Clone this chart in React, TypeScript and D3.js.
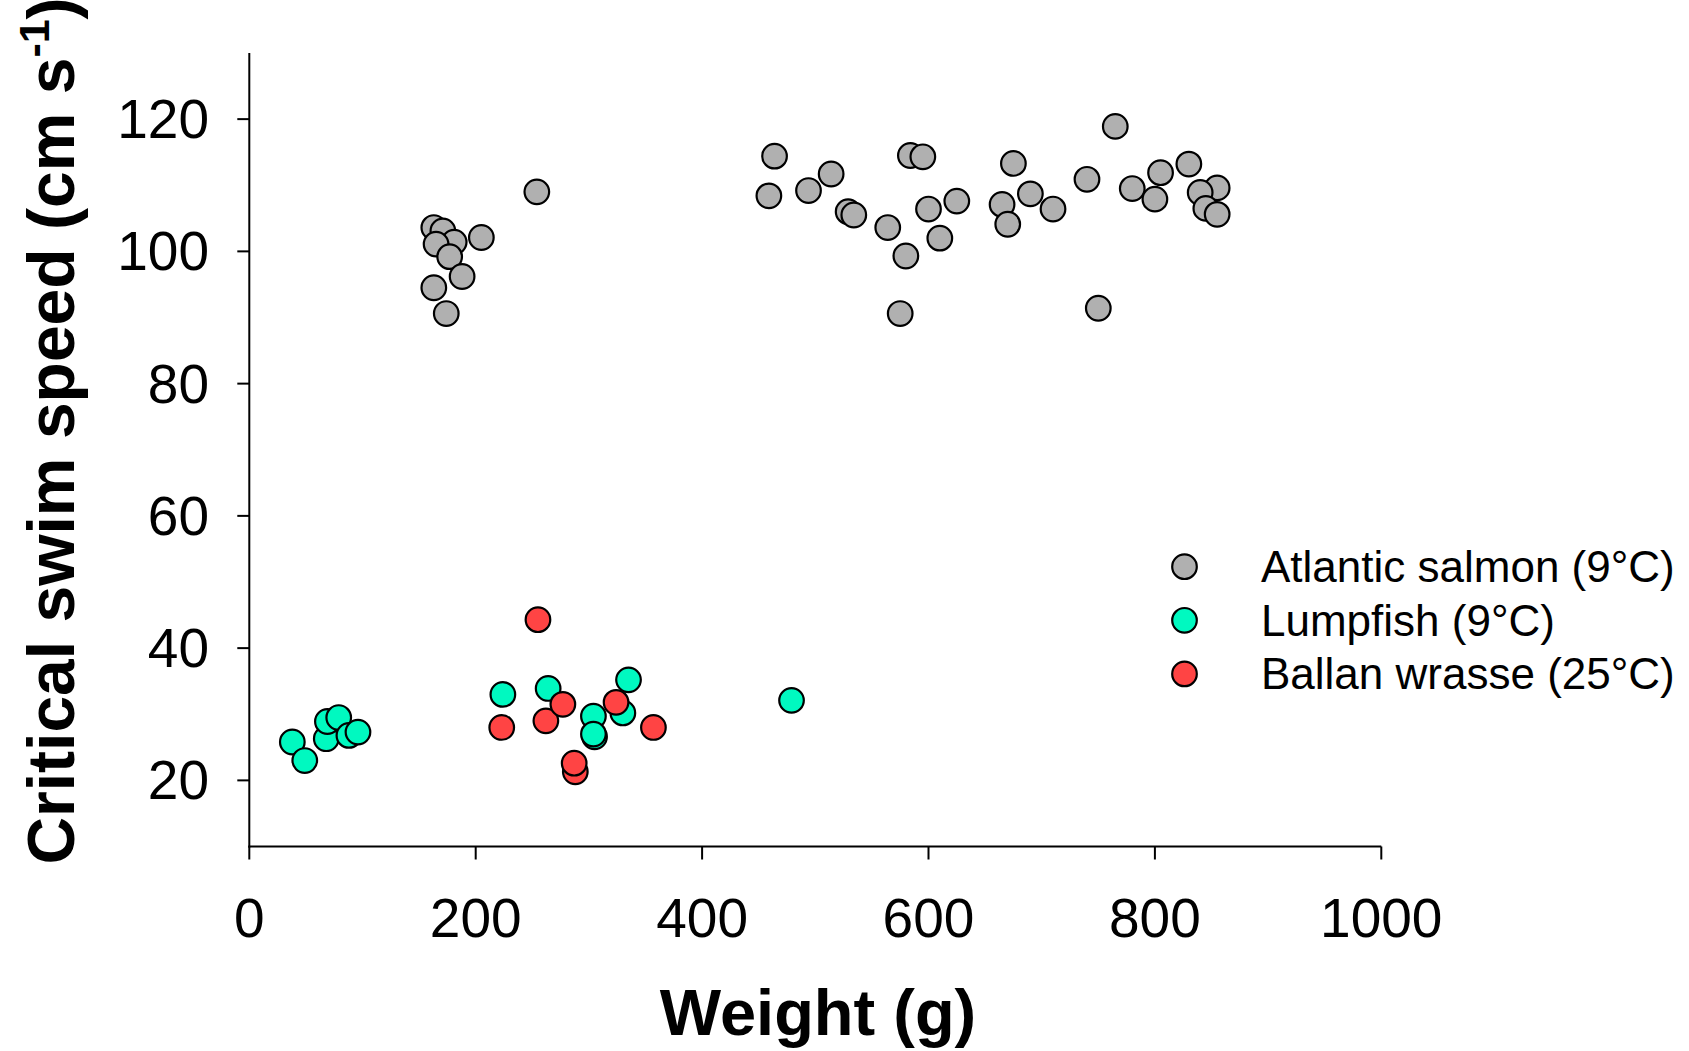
import React from "react";
import * as d3 from "d3";

const salmonX = [254, 163, 171, 205, 181, 165, 177, 188, 163, 174, 464, 459, 494, 514, 529, 534, 564, 580, 575, 584, 595, 600, 610, 625, 675, 665, 670, 690, 710, 740, 765, 750, 780, 800, 805, 830, 855, 840, 845, 855];
const salmonY = [109.0, 103.6, 103.1, 102.1, 101.4, 101.1, 99.2, 96.2, 94.5, 90.6, 114.4, 108.4, 109.2, 111.7, 106.0, 105.5, 103.6, 99.3, 90.6, 114.5, 114.3, 106.4, 102.0, 107.6, 113.3, 107.1, 104.1, 108.7, 106.4, 110.9, 118.9, 91.4, 109.5, 107.9, 111.9, 113.2, 109.6, 108.9, 106.5, 105.6];
const lumpX = [38, 49, 68, 69, 79, 88, 96, 224, 264, 304, 330, 335, 305, 304, 479];
const lumpY = [25.8, 23.0, 26.3, 28.9, 29.5, 26.8, 27.3, 33.0, 33.9, 29.7, 30.2, 35.2, 26.6, 27.0, 32.1];
const wrasseX = [255, 223, 262, 277, 288, 287, 324, 357];
const wrasseY = [44.3, 28.0, 29.0, 31.5, 21.3, 22.6, 31.8, 28.0];

const seriesNames = ["Atlantic salmon (9°C)", "Lumpfish (9°C)", "Ballan wrasse (25°C)"];
const seriesColors = ["#b0b0b0", "#00f9c0", "#ff4444"];
const xTicks = [0, 200, 400, 600, 800, 1000];
const yTicks = [20, 40, 60, 80, 100, 120];

const FONT = "'Liberation Sans', Arial, sans-serif";

export default function App() {
  const W = 1689, H = 1051;
  const x = d3.scaleLinear().domain([0, 1000]).range([249.3, 1381.3]);
  const y = d3.scaleLinear().domain([10, 130]).range([846.5, 53]);
  const series = [
    { xs: salmonX, ys: salmonY },
    { xs: lumpX, ys: lumpY },
    { xs: wrasseX, ys: wrasseY },
  ];
  const r = 12.3;
  return (
    <svg width={W} height={H} style={{ position: "absolute", left: 0, top: 0, background: "#fff" }} fontFamily={FONT}>
      {/* axes */}
      <line x1={x(0)} x2={x(0)} y1={y(130)} y2={y(10) + 1} stroke="#000" strokeWidth={2} />
      <line x1={x(0) - 1} x2={x(1000)} y1={y(10)} y2={y(10)} stroke="#000" strokeWidth={2.2} />
      {yTicks.map((t) => (
        <g key={"y" + t}>
          <line x1={x(0) - 12} x2={x(0)} y1={y(t)} y2={y(t)} stroke="#000" strokeWidth={2} />
          <text x={209} y={y(t) + 19} textAnchor="end" fontSize={55}>{t}</text>
        </g>
      ))}
      {xTicks.map((t) => (
        <g key={"x" + t}>
          <line x1={x(t)} x2={x(t)} y1={y(10)} y2={y(10) + 13} stroke="#000" strokeWidth={2} />
          <text x={x(t)} y={937} textAnchor="middle" fontSize={55}>{t}</text>
        </g>
      ))}
      <text x={818} y={1035} textAnchor="middle" fontSize={65} fontWeight="bold">Weight (g)</text>
      <text transform={`translate(74,${431}) rotate(-90)`} textAnchor="middle" fontSize={66} fontWeight="bold">
        Critical swim speed (cm s<tspan fontSize={43} dy={-25}>-1</tspan><tspan dy={25}>)</tspan>
      </text>
      {/* points */}
      {series.map((s, si) => (
        <g key={"s" + si}>
          {s.xs.map((xv, i) => (
            <circle key={i} cx={x(xv)} cy={y(s.ys[i])} r={r} fill={seriesColors[si]} stroke="#000" strokeWidth={2.2} />
          ))}
        </g>
      ))}
      {/* legend */}
      {seriesNames.map((n, i) => (
        <g key={"l" + i}>
          <circle cx={1184.5} cy={566.7 + i * 53.6} r={12.3} fill={seriesColors[i]} stroke="#000" strokeWidth={2.2} />
          <text x={1261} y={566.7 + i * 53.6 + 15.5} fontSize={44}>{n}</text>
        </g>
      ))}
    </svg>
  );
}
